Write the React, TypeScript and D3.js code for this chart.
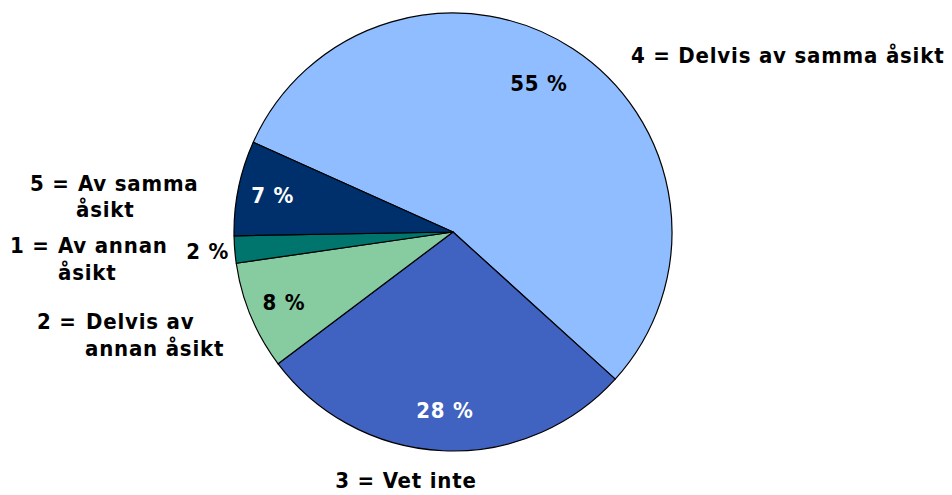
import React from "react";
import * as d3 from "d3";

// Survey answer distribution
const categories = ["4 = Delvis av samma åsikt", "3 = Vet inte", "2 = Delvis av annan åsikt", "1 = Av annan åsikt", "5 = Av samma åsikt"];
const values = [55, 28, 8, 2, 7];
const sliceColors = ["#8FBDFF", "#4062C0", "#87CBA0", "#00756E", "#00306B"];
const valueTextColors = ["#000", "#fff", "#000", "#000", "#fff"];

const W = 952;
const H = 495;
const cx = 453;
const cy = 232;
const R = 219;
const FONT = "'DejaVu Sans Condensed', 'DejaVu Sans', sans-serif";
const FS = 22;
const LS = 0.8;

export default function App() {
  const pie = d3
    .pie<number>()
    .sort(null)
    .value((d) => d)
    .startAngle((-65.8 * Math.PI) / 180)
    .endAngle(((360 - 65.8) * Math.PI) / 180);
  const arcs = pie(values);
  const arc = d3.arc<d3.PieArcDatum<number>>().innerRadius(0).outerRadius(R);

  // radial placement of the value labels: [radius, angle shift in degrees]
  const labelPlace: [number, number][] = [
    [172, -3.2],
    [179, 0],
    [183, 0],
    [246, 0],
    [184, 0],
  ];
  const valueLabel = (a: d3.PieArcDatum<number>, i: number) => {
    const [r, shift] = labelPlace[i];
    const m = (a.startAngle + a.endAngle) / 2 + (shift * Math.PI) / 180;
    return [Math.sin(m) * r, -Math.cos(m) * r];
  };

  // category label layout: each label is one text block, lines as [x, y, text]
  const catLines: { anchor: "start" | "middle"; lines: [number, number, string][] }[] = [
    { anchor: "start", lines: [[631, 55, "4 = Delvis av samma åsikt"]] },
    { anchor: "middle", lines: [[406, 480, "3 = Vet inte"]] },
    {
      anchor: "start",
      lines: [
        [37, 321, "2 ="],
        [86, 321, "Delvis av"],
        [85, 348, "annan åsikt"],
      ],
    },
    {
      anchor: "start",
      lines: [
        [10, 245, "1 ="],
        [58, 245, "Av annan"],
        [58, 272, "åsikt"],
      ],
    },
    {
      anchor: "start",
      lines: [
        [30, 183, "5 ="],
        [78, 183, "Av samma"],
        [76, 209, "åsikt"],
      ],
    },
  ];

  return (
    <svg width={W} height={H} style={{ position: "absolute", left: 0, top: 0, background: "#fff" }}>
      <g transform={`translate(${cx},${cy})`}>
        {arcs.map((a, i) => (
          <path key={i} d={arc(a) || ""} fill={sliceColors[i]} stroke="#000" strokeWidth={1.2} strokeLinejoin="round" />
        ))}
        {arcs.map((a, i) => {
          const [x, y] = valueLabel(a, i);
          return (
            <text
              key={"v" + i}
              x={x}
              y={y}
              textAnchor="middle"
              dominantBaseline="central"
              fontFamily={FONT}
              fontWeight={700}
              fontSize={FS}
              letterSpacing={LS}
              fill={valueTextColors[i]}
            >
              {values[i]} %
            </text>
          );
        })}
      </g>
      {catLines.map((c, i) => (
        <text
          key={"c" + i}
          textAnchor={c.anchor}
          fontFamily={FONT}
          fontWeight={700}
          fontSize={FS}
          letterSpacing={LS}
          fill="#000"
          aria-label={categories[i]}
        >
          {c.lines.map(([x, y, t], j) => (
            <tspan key={j} x={x} y={y} dominantBaseline="central">
              {t}
            </tspan>
          ))}
        </text>
      ))}
    </svg>
  );
}
